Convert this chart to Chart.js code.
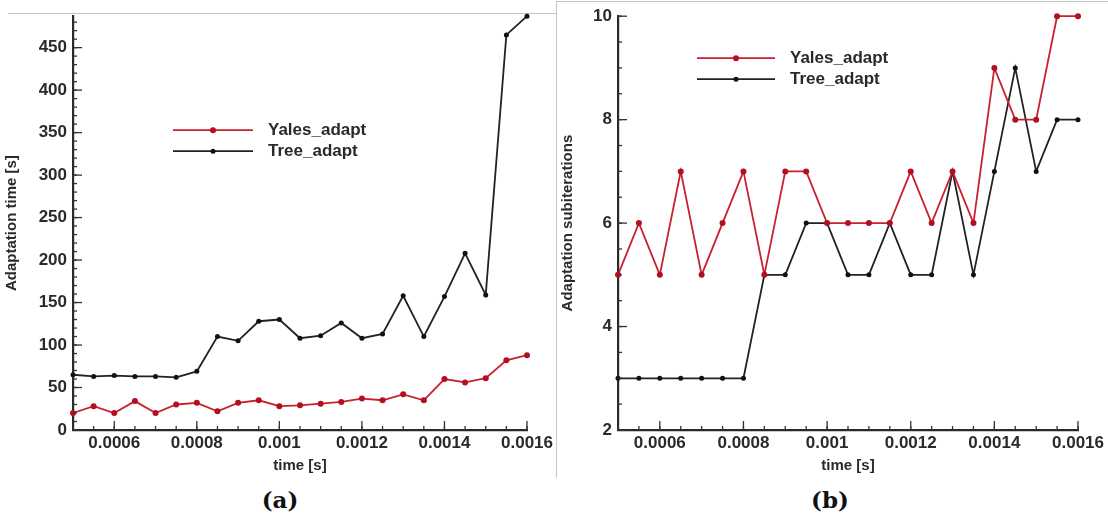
<!DOCTYPE html>
<html>
<head>
<meta charset="utf-8">
<script src="https://cdn.jsdelivr.net/npm/chart.js@4.4.0/dist/chart.umd.min.js"></script>
<style>
  body { margin: 0; background: #fff; width: 1108px; height: 529px; overflow: hidden; position: relative; }
  .panel { position: absolute; top: 0; height: 480px; }
  #pa { left: 0; width: 556px; }
  #pb { left: 556px; width: 552px; }
  .rule { position: absolute; background: #c4c4c4; }
  .cap { position: absolute; top: 486px; width: 100px; text-align: center; font: bold 23px "DejaVu Serif", serif; color: #111; }
</style>
</head>
<body>
<div class="rule" style="left:8px;top:13px;width:548px;height:1px"></div>
<div class="rule" style="left:556px;top:1px;width:1px;height:477px"></div>
<div class="rule" style="left:556px;top:1px;width:552px;height:1px"></div>
<div class="panel" id="pa"><canvas id="chartA"></canvas></div>
<div class="panel" id="pb"><canvas id="chartB"></canvas></div>
<div class="cap" style="left:230px">(a)</div>
<div class="cap" style="left:780px">(b)</div>

<script>
// time steps [s]
const times = [0.0005, 0.00055, 0.0006, 0.00065, 0.0007, 0.00075, 0.0008, 0.00085,
  0.0009, 0.00095, 0.001, 0.00105, 0.0011, 0.00115, 0.0012, 0.00125, 0.0013,
  0.00135, 0.0014, 0.00145, 0.0015, 0.00155, 0.0016];

// (a) adaptation time [s]
const yalesTime = [20, 28, 20, 34, 20, 30, 32, 22, 32, 35, 28, 29, 31, 33, 37, 35, 42, 35, 60, 56, 61, 82, 88];
const treeTime = [65, 63, 64, 63, 63, 62, 69, 110, 105, 128, 130, 108, 111, 126, 108, 113, 158, 110, 157, 208, 159, 465, 487];

// (b) adaptation subiterations
const yalesIter = [5, 6, 5, 7, 5, 6, 7, 5, 7, 7, 6, 6, 6, 6, 7, 6, 7, 6, 9, 8, 8, 10, 10];
const treeIter = [3, 3, 3, 3, 3, 3, 3, 5, 5, 6, 6, 5, 5, 6, 5, 5, 7, 5, 7, 9, 7, 8, 8];

// tick labels
const xTicks = [0.0006, 0.0008, 0.001, 0.0012, 0.0014, 0.0016];
const xTickLabels = ['0.0006', '0.0008', '0.001', '0.0012', '0.0014', '0.0016'];
const yTicksA = [0, 50, 100, 150, 200, 250, 300, 350, 400, 450];
const yTicksB = [2, 4, 6, 8, 10];

const RED = '#c8202e';
const BLACK = '#222';
const FONT = '"Liberation Sans", Arial, sans-serif';

const pts = (vals) => vals.map((v, i) => ({ x: times[i], y: v }));

// legend drawn inside the plot area
const legendLines = {
  id: 'legendLines',
  afterDatasetsDraw(chart, args, opts) {
    const { ctx, chartArea } = chart;
    ctx.save();
    chart.data.datasets.forEach((ds, i) => {
      const y = chartArea.top + opts.y + i * opts.gap;
      const x0 = chartArea.left + opts.x;
      ctx.strokeStyle = ds.borderColor;
      ctx.lineWidth = ds.borderWidth;
      ctx.beginPath();
      ctx.moveTo(x0, y);
      ctx.lineTo(x0 + opts.len, y);
      ctx.stroke();
      ctx.fillStyle = ds.pointBackgroundColor;
      ctx.beginPath();
      ctx.arc(x0 + opts.len / 2, y, ds.pointRadius, 0, Math.PI * 2);
      ctx.fill();
      ctx.fillStyle = '#2a2a2a';
      ctx.font = 'bold 17px ' + FONT;
      ctx.textBaseline = 'middle';
      ctx.fillText(ds.label, x0 + opts.len + 15, y);
    });
    ctx.restore();
  }
};

// tecplot-like ticks pointing into the plot
const inTicks = {
  id: 'inTicks',
  afterDraw(chart, args, opts) {
    const { ctx, chartArea: a, scales: { x, y } } = chart;
    ctx.save();
    ctx.strokeStyle = '#333';
    ctx.lineWidth = 1.3;
    const seg = (x1, y1, x2, y2) => { ctx.beginPath(); ctx.moveTo(x1, y1); ctx.lineTo(x2, y2); ctx.stroke(); };
    let n = Math.round((x.max - x.min) / opts.xMinor);
    for (let i = 0; i <= n; i++) {
      const px = x.getPixelForValue(x.min + i * opts.xMinor);
      seg(px, a.bottom, px, a.bottom - 4);
    }
    x.ticks.forEach(t => { const px = x.getPixelForValue(t.value); seg(px, a.bottom, px, a.bottom - 9); });
    n = Math.floor((y.max - opts.yStart) / opts.yMinor);
    for (let i = 0; i <= n; i++) {
      const py = y.getPixelForValue(opts.yStart + i * opts.yMinor);
      seg(a.left, py, a.left + 4, py);
    }
    y.ticks.forEach(t => { const py = y.getPixelForValue(t.value); seg(a.left, py, a.left + 9, py); });
    ctx.restore();
  }
};

function makeChart(id, yellow, black, yTicks, yMin, yMax, yTitle, pad, yWidth, legend, minor) {
  new Chart(document.getElementById(id), {
    type: 'line',
    data: {
      datasets: [
        { label: 'Yales_adapt', data: pts(yellow), borderColor: RED, backgroundColor: RED,
          pointBackgroundColor: '#b3101f', pointBorderWidth: 0, pointRadius: 3, borderWidth: 1.8, clip: false },
        { label: 'Tree_adapt', data: pts(black), borderColor: BLACK, backgroundColor: BLACK,
          pointBackgroundColor: '#111', pointBorderWidth: 0, pointRadius: 2.5, borderWidth: 1.8, clip: false }
      ]
    },
    options: {
      responsive: true,
      maintainAspectRatio: false,
      animation: false,
      layout: { padding: pad },
      plugins: {
        legend: { display: false },
        tooltip: { enabled: false },
        legendLines: legend,
        inTicks: minor
      },
      scales: {
        x: {
          type: 'linear', min: 0.0005, max: 0.0016,
          afterBuildTicks: (s) => { s.ticks = xTicks.map(v => ({ value: v })); },
          afterFit: (s) => { s.height = 50; },
          grid: { display: true, drawOnChartArea: false, drawTicks: false },
          border: { color: '#2a2a2a', width: 2.2 },
          ticks: { padding: 3, color: '#2a2a2a', font: { family: FONT, size: 17, weight: 'bold' },
            callback: (v) => xTickLabels[xTicks.indexOf(v)] },
          title: { display: true, text: 'time [s]', color: '#2a2a2a', padding: { top: 0, bottom: 5 },
            font: { family: FONT, size: 15, weight: 'bold' } }
        },
        y: {
          type: 'linear', min: yMin, max: yMax,
          afterBuildTicks: (s) => { s.ticks = yTicks.map(v => ({ value: v })); },
          afterFit: (s) => { s.width = yWidth; },
          grid: { display: true, drawOnChartArea: false, drawTicks: false },
          border: { color: '#2a2a2a', width: 2.2 },
          ticks: { padding: 6, color: '#2a2a2a', font: { family: FONT, size: 17, weight: 'bold' } },
          title: { display: true, text: yTitle, color: '#2a2a2a', padding: { top: 3, bottom: 0 },
            font: { family: FONT, size: 15, weight: 'bold' } }
        }
      }
    },
    plugins: [legendLines, inTicks]
  });
}

makeChart('chartA', yalesTime, treeTime, yTicksA, 0, 487, 'Adaptation time [s]',
  { top: 13, right: 28, left: 0, bottom: 0 }, 73,
  { x: 100, y: 114, gap: 21, len: 80 },
  { xMinor: 0.00005, yMinor: 10, yStart: 0 });

makeChart('chartB', yalesIter, treeIter, yTicksB, 2, 10, 'Adaptation subiterations',
  { top: 10, right: 30, left: 0, bottom: 0 }, 62,
  { x: 79, y: 42, gap: 21, len: 78 },
  { xMinor: 0.00005, yMinor: 0.5, yStart: 2 });
</script>
</body>
</html>
